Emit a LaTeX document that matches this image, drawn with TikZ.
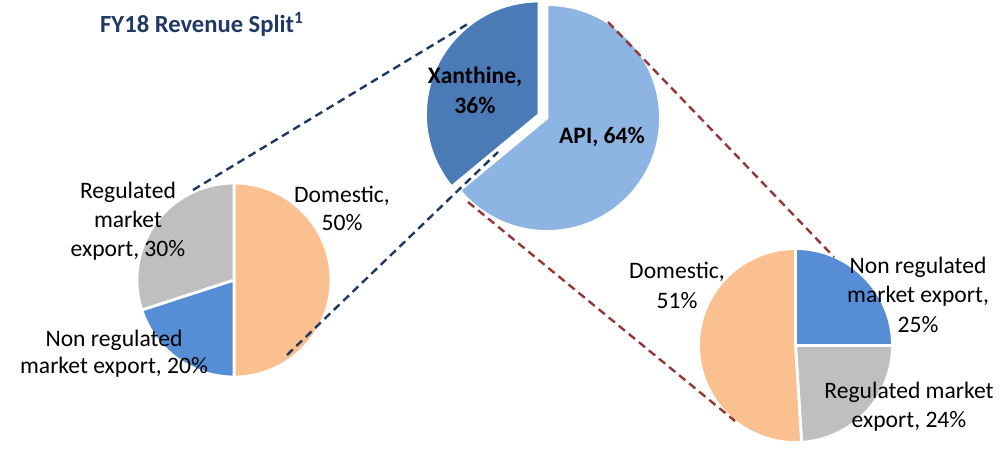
\documentclass[tikz,border=0pt]{standalone}
\usepackage{fontspec}
\setmainfont{Carlito}
\definecolor{navy}{HTML}{1F3864}
\definecolor{rust}{HTML}{953735}
\definecolor{xanthblue}{HTML}{4A7BB7}
\definecolor{apiblue}{HTML}{8DB4E2}
\definecolor{domorange}{HTML}{FAC08F}
\definecolor{reggray}{HTML}{BFBFBF}
\definecolor{nonregblue}{HTML}{558ED5}
\tikzset{
  slice/.style={fill=#1, draw=white, line width=2.8pt, line join=round},
  lbl/.style={font=\fontsize{23.6}{29}\selectfont, align=center, text=black, inner sep=0pt, anchor=base},
  boldlbl/.style={lbl, font=\fontsize{23.6}{30}\selectfont\bfseries},
  zoomline/.style={draw=#1, line width=2.4pt, dash pattern=on 8pt off 5pt},
}
\begin{document}
\begin{tikzpicture}[x=1pt, y=-1pt]
\useasboundingbox (0,0) rectangle (1000,451);

% title
\node[anchor=base west, inner sep=0pt, text=navy, font=\fontsize{24.6}{28}\selectfont\bfseries] (title) at (100,32.3) {FY18 Revenue Split\textsuperscript{1}};

% top pie: Xanthine (exploded) and API
\coordinate (xc) at (539,114.5);
\coordinate (ac) at (547,118);
\path[slice=xanthblue] (xc) -- ++(-90:113.5) arc[start angle=-90, end angle=-219.6, radius=113.5] -- cycle;
\path[slice=apiblue] (ac) -- ++(-90:113.5) arc[start angle=-90, end angle=140.4, radius=113.5] -- cycle;

% left pie: Xanthine split
\coordinate (lc) at (234,280);
\path[slice=domorange] (lc) -- ++(-90:97) arc[start angle=-90, end angle=90, radius=97] -- cycle;
\path[slice=nonregblue] (lc) -- ++(90:97) arc[start angle=90, end angle=162, radius=97] -- cycle;
\path[slice=reggray] (lc) -- ++(162:97) arc[start angle=162, end angle=270, radius=97] -- cycle;

% right pie: API split
\coordinate (rc) at (795.5,345.5);
\path[slice=nonregblue] (rc) -- ++(-90:97) arc[start angle=-90, end angle=0, radius=97] -- cycle;
\path[slice=reggray] (rc) -- ++(0:97) arc[start angle=0, end angle=86.4, radius=97] -- cycle;
\path[slice=domorange] (rc) -- ++(86.4:97) arc[start angle=86.4, end angle=270, radius=97] -- cycle;

% labels (anchored at the baseline of their last line)
\node[boldlbl] (xanth) at (475,113) {Xanthine,\\36\%};
\node[boldlbl] (api) at (602,143) {API, 64\%};
\node[lbl] (lreg) at (128,256) {Regulated\\market\\export, 30\%};
\node[lbl, font=\fontsize{23.6}{28}\selectfont] (ldom) at (342,230) {Domestic,\\50\%};
\node[lbl, font=\fontsize{23.6}{27}\selectfont] (lnon) at (114,373) {Non regulated\\market export, 20\%};
\node[lbl, font=\fontsize{23.6}{30}\selectfont] (rdom) at (677,308) {Domestic,\\51\%};
\node[lbl, font=\fontsize{23.6}{29.5}\selectfont] (rnon) at (918,332) {Non regulated\\market export,\\25\%};
\node[lbl] (rreg) at (909,427) {Regulated market\\export, 24\%};

% zoom connectors
\coordinate (n1a) at (193,190); \coordinate (n1b) at (471,22);
\coordinate (n2a) at (287,355); \coordinate (n2b) at (498,152);
\coordinate (r1a) at (608,22);  \coordinate (r1b) at (834,257);
\coordinate (r2a) at (468,202); \coordinate (r2b) at (735,421);
\draw[zoomline=navy] (n1a) -- (n1b);
\draw[zoomline=navy] (n2a) -- (n2b);
\draw[zoomline=rust] (r1a) -- (r1b);
\draw[zoomline=rust] (r2a) -- (r2b);
\end{tikzpicture}
\end{document}
